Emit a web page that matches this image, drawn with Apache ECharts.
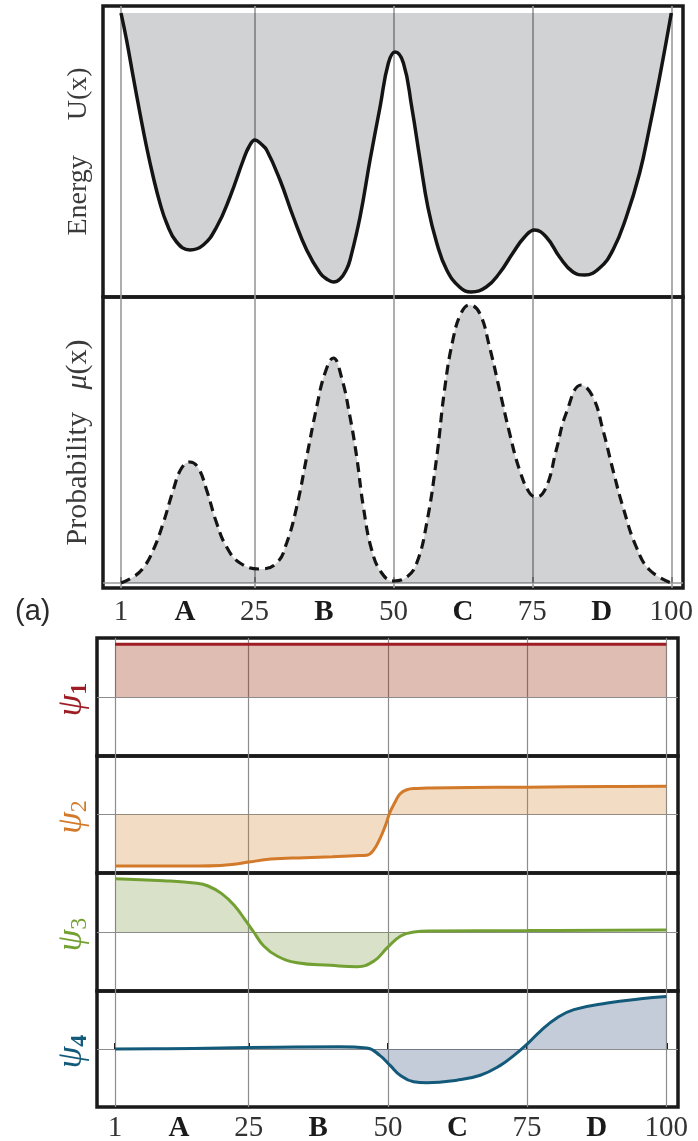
<!DOCTYPE html>
<html><head><meta charset="utf-8">
<script src="https://cdn.jsdelivr.net/npm/echarts@6/dist/echarts.min.js"></script>
<style>html,body{margin:0;padding:0;background:#fff;}#c{width:698px;height:1141px;}</style>
</head><body><div id="c"></div>
<script>
// ---- tick labels ----
const tickLabels = ['1','A','25','B','50','C','75','D','100'];
const tickLabelPos = [1,12.5,25,37.5,50,62.5,75,87.5,100];
const gridXs = [1,25,50,75,100];

// ---- energy U(x) ----
const energyX = [1,2,3.2,4.4,5.6,6.8,8,9.2,11,13.4,15.8,18.2,20.6,23,24,25.1,26.2,27.2,29.6,32,34.4,36.8,38,39.2,40.4,41.6,42.2,44,45.8,47.6,49.1,50.3,51.8,53.3,54.8,56.2,57.8,59.6,61.9,64,66.7,69.1,71.5,73.6,75.4,77.5,79.9,82.3,84.4,87.1,89.5,91.9,94.3,96.1,97.9,100];
const energyU = [284,257,220,184,150,120,94,74,55,47,52,70,100,137,150,157,153,147,117,80,47,24,18,15,18,28,37,80,137,190,234,245,234,190,137,90,54,27,10,5,10,24,44,60,67,60,40,25,22,29,47,80,124,170,220,284];
const energyCeiling = 284;

// ---- probability mu(x) ----
const probX = [1,3.2,5,6.8,8.6,10.4,11.9,13.4,14.9,16.4,18.2,20,22.4,26,29,30.8,32.6,34.4,36.2,37.7,39.2,40.7,42.2,43.4,44.6,46.1,47.9,50,52.4,54.2,56,57.8,59.2,60.7,62.2,63.7,65.5,67.3,69.1,70.9,72.7,74.5,75.7,77.5,79.3,81.1,83.8,85.9,87.7,89.5,91.3,93.7,96.1,100];
const probMu = [0,6,15,33,60,93,115,121,115,93,60,36,20,14,20,40,76,126,176,210,225,205,166,126,76,33,10,2,6,20,60,126,193,243,270,278,270,236,193,150,113,90,86,96,133,170,198,186,153,113,76,36,13,0];

// ---- eigenvectors psi ----
const psi1X = [1,100];
const psi1 = [52.7,52.7];
const psi2X = [1,10,16,20,22,25,29,35,40,44,46.2,47.4,48.6,49.5,50.4,51.3,52.2,53.4,55.2,57.6,64.8,75,90,100];
const psi2 = [-52,-52,-52,-51.5,-50.5,-48,-45,-43.5,-42.5,-41.5,-41,-36,-24,-12,2.6,12.6,21,25,26.3,26.8,27.2,27.6,28.2,28.6];
const psi3X = [1,9.75,15.7,17.7,20.1,22.5,24.3,25.9,27.7,30.1,33.7,39.7,44.5,47.5,49.9,52.3,54.7,57.6,75,100];
const psi3 = [53.3,51.3,48.7,46,38.6,26,12.6,0,-14,-24,-30.7,-33.3,-34.7,-29,-15.7,-4,0,1,1.5,2];
const psi4X = [1,10,20,30,41.4,46.2,48.6,50.4,52.2,54.6,57,62.4,66.6,70.2,72.6,75,77.4,80.4,83.4,89.4,95.4,100];
const psi4 = [0,0.3,1,1.8,2.3,1,-6.7,-16.7,-26.7,-33.3,-34.3,-31.7,-26.7,-16.7,-6.7,5,18.3,31.7,40,46.7,51,53.3];

const pairs = (xs, ys) => xs.map((x, i) => [x, ys[i]]);

const SMOOTH = 0.45;
const XMIN = -2.24, XMAX = 102.1;
const frame = {show:true, borderColor:'#1a1a1a', borderWidth:3.5, backgroundColor:'transparent', containLabel:false, outerBoundsMode:'none'};
const grids = [
  {left:103, width:580, top:6, height:291},
  {left:103, width:580, top:297, height:291},
  {left:97, width:581, top:638, height:118},
  {left:97, width:581, top:756, height:117},
  {left:97, width:581, top:873, height:118},
  {left:97, width:581, top:991, height:116}
].map(g => Object.assign(g, frame));
// inner grid of the energy panel for the fill up to the ceiling level
grids.push({left:103, width:580, top:6 + (291 - energyCeiling), height:energyCeiling, show:false, containLabel:false, outerBoundsMode:'none'});

const labelFmt = v => {
  const i = tickLabelPos.indexOf(v);
  if (i < 0) return '';
  const t = tickLabels[i];
  return /[A-Z]/.test(t) ? '{b|' + t + '}' : t;
};
function xAxisFor(i, withLabels, margin) {
  return {
    type:'value', gridIndex:i, min:XMIN, max:XMAX,
    axisLine:{show:false}, splitLine:{show:false},
    axisTick: withLabels ? {show:true, inside:true, length:6, customValues:gridXs, lineStyle:{color:'#111', width:2}} : {show:false},
    axisLabel: withLabels ? {show:true, customValues:tickLabelPos, formatter:labelFmt, margin:margin,
      fontFamily:'Liberation Serif', fontSize:29, color:'#333',
      rich:{b:{fontFamily:'Liberation Serif', fontWeight:'bold', fontSize:29, color:'#1a1a1a'}}} : {show:false}
  };
}
const nameBase = {nameLocation:'middle', nameRotate:90, nameMoveOverlap:false};
function yAxisFor(i, min, max, name, style, gap) {
  return Object.assign({
    type:'value', gridIndex:i, min:min, max:max,
    axisLine:{show:false}, axisTick:{show:false}, axisLabel:{show:false}, splitLine:{show:false},
    name:name, nameGap:gap, nameTextStyle:style
  }, nameBase);
}
const energyName = {fontFamily:'Liberation Serif', fontSize:28, color:'#3a3a3a'};
const probName = {fontFamily:'Liberation Serif', fontSize:30, color:'#3a3a3a',
  rich:{m:{fontFamily:'Liberation Serif', fontStyle:'italic', fontSize:30, color:'#3a3a3a'}}};
function psiName(color, subBold) {
  return {fontFamily:'Liberation Serif', color:color, padding:[0,5,0,0],
    rich:{
      p:{fontFamily:'Liberation Serif', fontStyle:'italic', fontSize:35, color:color, lineHeight:40},
      s:{fontFamily:'Liberation Serif', fontWeight: subBold ? 'bold' : 'normal', fontSize:24, color:color, verticalAlign:'bottom', lineHeight:24}
    }};
}

function mark(withX, withZero, gridColor, w) {
  const data = withX ? gridXs.map(v => ({xAxis:v})) : [];
  if (withZero) data.push({yAxis:0});
  return {silent:true, symbol:['none','none'], z:1, animation:false,
    label:{show:false}, lineStyle:{type:'solid', color:gridColor, width:w}, data:data};
}

const psiDefs = [
  {x:psi1X, y:psi1, color:'#9e1d24', fill:'rgba(148,35,0,0.3)', bold:true},
  {x:psi2X, y:psi2, color:'#d27a2a', fill:'rgba(207,125,37,0.27)', bold:false},
  {x:psi3X, y:psi3, color:'#73a032', fill:'rgba(114,144,55,0.27)', bold:false},
  {x:psi4X, y:psi4, color:'#135a7a', fill:'rgba(55,85,125,0.3)', bold:true}
];

const xAxes = [xAxisFor(0,false), xAxisFor(1,true,10), xAxisFor(2,false), xAxisFor(3,false), xAxisFor(4,false), xAxisFor(5,true,7), xAxisFor(6,false)];
const yAxes = [
  yAxisFor(0, 0, 291, 'Energy\u2003 U(x)', energyName, 10),
  yAxisFor(1, -5, 286, 'Probability\u2002 {m|\u03bc}(x)', probName, 10)
];
psiDefs.forEach((d, k) => {
  yAxes.push(yAxisFor(k+2, -59, 59, '{p|\u03c8}{s|' + (k+1) + '}', psiName(d.color, d.bold), 5));
});
yAxes.push({type:'value', gridIndex:6, min:0, max:energyCeiling, axisLine:{show:false}, axisTick:{show:false}, axisLabel:{show:false}, splitLine:{show:false}});
const FILL_Y = yAxes.length - 1;

const series = [
  {type:'line', xAxisIndex:6, yAxisIndex:FILL_Y, data:pairs(energyX, energyU), smooth:SMOOTH,
    showSymbol:false, silent:true, lineStyle:{width:0, opacity:0},
    areaStyle:{color:'rgba(0,3,10,0.18)', opacity:1, origin:'end'}},
  {type:'line', xAxisIndex:0, yAxisIndex:0, data:pairs(energyX, energyU), smooth:SMOOTH,
    showSymbol:false, silent:true, lineStyle:{color:'#141414', width:3.5}, markLine:mark(true,false,'#9a9a9a',1.6)},
  {type:'line', xAxisIndex:1, yAxisIndex:1, data:pairs(probX, probMu), smooth:SMOOTH,
    showSymbol:false, silent:true, lineStyle:{color:'#141414', width:3.2, type:[10,6]},
    areaStyle:{color:'rgba(0,3,10,0.18)', opacity:1}, markLine:mark(true,true,'#9a9a9a',1.6)}
];
psiDefs.forEach((d, k) => {
  series.push({type:'line', xAxisIndex:k+2, yAxisIndex:k+2, data:pairs(d.x, d.y), smooth:SMOOTH,
    showSymbol:false, silent:true, lineStyle:{color:d.color, width:3},
    areaStyle:{color:d.fill, opacity:1}, markLine:mark(true,true,'#8c8c8c',1.2)});
});

const chart = echarts.init(document.getElementById('c'), null, {renderer:'canvas'});
chart.setOption({
  animation:false,
  backgroundColor:'#fff',
  grid:grids,
  xAxis:xAxes,
  yAxis:yAxes,
  series:series,
  graphic:[{type:'text', left:15, top:597, style:{text:'(a)', font:'29px "Liberation Sans"', fill:'#2b2b2b'}}]
});
</script></body></html>
